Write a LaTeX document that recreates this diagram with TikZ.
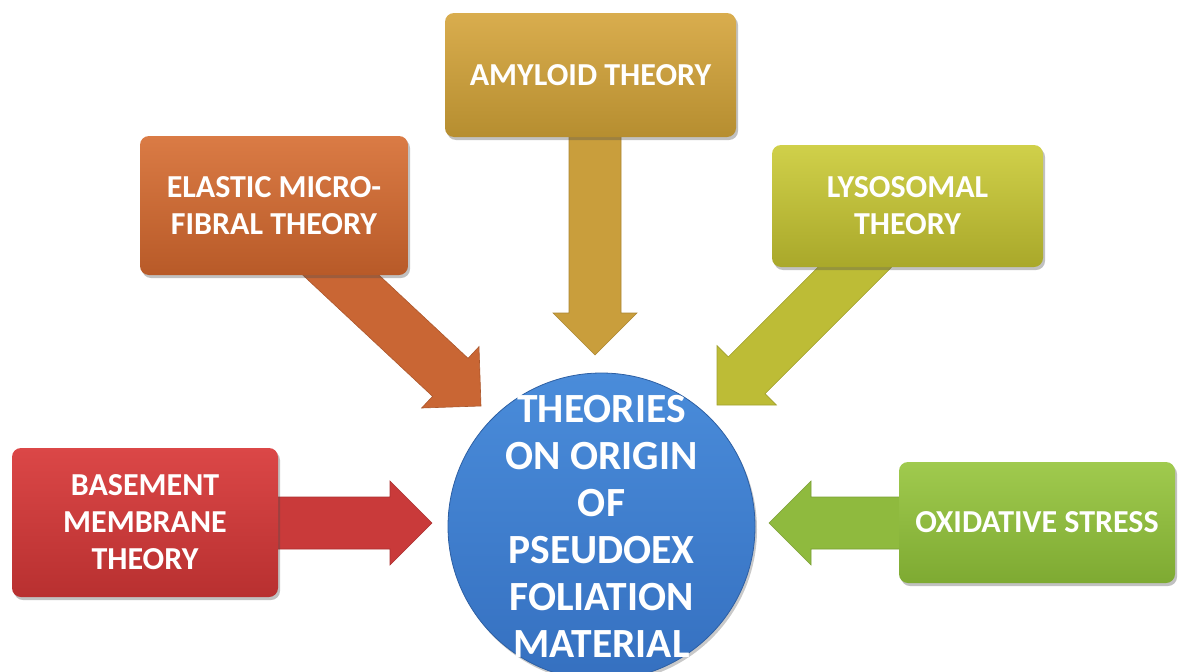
\documentclass[tikz,border=0pt]{standalone}
\usepackage{fontspec}
\setmainfont{Carlito}
\usetikzlibrary{calc,shadows,backgrounds}
\definecolor{amyT}{HTML}{D9AD4E}\definecolor{amyB}{HTML}{B68E30}\definecolor{amyM}{HTML}{C99E3C}
\definecolor{elaT}{HTML}{DA7B45}\definecolor{elaB}{HTML}{B85A28}\definecolor{elaM}{HTML}{C96634}
\definecolor{lysT}{HTML}{D0D04A}\definecolor{lysB}{HTML}{A9A82A}\definecolor{lysM}{HTML}{BDBC36}
\definecolor{basT}{HTML}{DB4747}\definecolor{basB}{HTML}{B83030}\definecolor{basM}{HTML}{C93A3A}
\definecolor{oxiT}{HTML}{A0CA4E}\definecolor{oxiB}{HTML}{7EAA32}\definecolor{oxiM}{HTML}{8FBA3E}
\definecolor{cirT}{HTML}{4A8CDA}\definecolor{cirB}{HTML}{3570C0}
\newcommand\myarrw{26pt}
\newcommand\myarrh{42pt}
\newcommand\myarrl{42pt}
\newcommand\blockarr[3]{%
  \coordinate (tmpb) at ($(#2)!\myarrl!(#1)$);
  \fill[#3] ($(#1)!\myarrw!90:(#2)$) -- ($(tmpb)!\myarrw!90:(#2)$) -- ($(tmpb)!\myarrh!90:(#2)$)
    -- (#2) -- ($(tmpb)!\myarrh!-90:(#2)$) -- ($(tmpb)!\myarrw!-90:(#2)$) -- ($(#1)!\myarrw!-90:(#2)$) -- cycle;}
\tikzset{
  box/.style={rectangle, rounded corners=9pt, inner sep=0pt, align=center, text=white,
    font=\bfseries\fontsize{32}{37}\selectfont,
    drop shadow={shadow xshift=2pt, shadow yshift=-3pt, opacity=0.35, fill=black!70}},
  shaft/.style={fill=#1, draw=#1!85!black, line width=0.6pt},
  centext/.style={align=center, text=white, inner sep=0pt, font=\bfseries\fontsize{41.5}{47}\selectfont}
}
\begin{document}
\begin{tikzpicture}[x=1pt,y=-1pt]
\useasboundingbox (0,0) rectangle (1181,672);
\clip (0,0) rectangle (1181,672);
\node[box, top color=amyT, bottom color=amyB, minimum width=291, minimum height=124] (amy) at (590.5,75) {AMYLOID THEORY};
\node[box, top color=elaT, bottom color=elaB, minimum width=268, minimum height=139] (ela) at (274,205.5) {ELASTIC MICRO-\\FIBRAL THEORY};
\node[box, top color=lysT, bottom color=lysB, minimum width=271, minimum height=122] (lys) at (907.5,206) {LYSOSOMAL\\THEORY};
\node[box, top color=basT, bottom color=basB, minimum width=266, minimum height=149] (bas) at (145,522.5) {BASEMENT\\MEMBRANE\\THEORY};
\node[box, top color=oxiT, bottom color=oxiB, minimum width=276, minimum height=121] (oxi) at (1037,522.5) {OXIDATIVE STRESS};
\node[circle, minimum size=307, inner sep=0pt, top color=cirT, bottom color=cirB, draw=cirB!85!black, line width=0.8pt,
  drop shadow={shadow xshift=2pt, shadow yshift=-3pt, opacity=0.3, fill=black!70},
  label={[centext]center:{THEORIES\\ON ORIGIN\\OF\\PSEUDOEX\\FOLIATION\\MATERIAL}}] (cen) at (601.5,526.5) {};
\coordinate (amyS) at (595,100);  \coordinate (amyE) at (595,355);
\coordinate (elaS) at (313,249);  \coordinate (elaE) at (481,406);
\coordinate (lysS) at (873,249);  \coordinate (lysE) at (717,405);
\coordinate (basS) at (200,523);  \coordinate (basE) at (432,523);
\coordinate (oxiS) at (1000,523); \coordinate (oxiE) at (769,523);
\begin{scope}[on background layer]
\blockarr{amyS}{amyE}{shaft=amyM}
\blockarr{elaS}{elaE}{shaft=elaM}
\blockarr{lysS}{lysE}{shaft=lysM}
\blockarr{basS}{basE}{shaft=basM}
\blockarr{oxiS}{oxiE}{shaft=oxiM}
\end{scope}
\end{tikzpicture}
\end{document}
